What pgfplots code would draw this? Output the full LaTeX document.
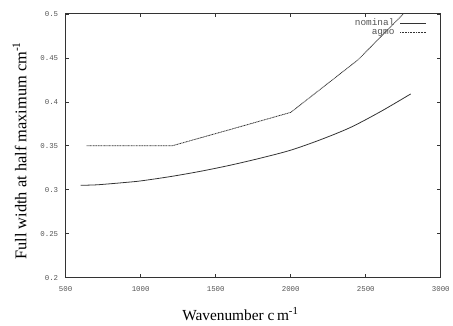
\documentclass[border=0pt]{standalone}
\usepackage{fontspec}
\setmainfont{Liberation Serif}
\newfontfamily\monofont{Liberation Mono}
\usepackage{pgfplots}
\pgfplotsset{compat=1.18}
\definecolor{ln}{HTML}{333333}
\definecolor{tk}{HTML}{555555}
\begin{document}
\begin{tikzpicture}
\begin{axis}[
  name=ax,
  scale only axis,
  width=377bp, height=265bp,
  xmin=500, xmax=3000, ymin=0.2, ymax=0.5,
  xtick={500,1000,1500,2000,2500,3000},
  ytick={0.2,0.25,0.3,0.35,0.4,0.45,0.5},
  /pgf/number format/1000 sep={},
  /pgf/number format/assume math mode=true,
  tick label style={font=\monofont\fontsize{7.5}{8}\selectfont, text=tk},
  xticklabel style={yshift=-5pt},
  yticklabel style={xshift=-4pt},
  tick align=inside, tick pos=both,
  major tick length=3.5pt,
  axis line style={ln, line width=0.9pt},
  every tick/.style={ln, line width=0.6pt},
  xlabel={Wavenumber c\,m\textsuperscript{-1}},
  ylabel={Full width at half maximum cm\textsuperscript{-1}},
  xlabel style={font=\fontsize{15.5}{17}\selectfont, yshift=-10pt, xshift=-13pt},
  ylabel style={font=\fontsize{16.5}{18}\selectfont, yshift=7pt, xshift=-5pt},
  legend style={draw=none, fill=none, at={(0.971,0.99)}, anchor=north east,
    font=\monofont\fontsize{9.5}{10}\selectfont, text=tk, row sep=1pt,
    column sep=5pt, nodes={inner sep=0.3pt}},
  legend cell align=right,
  legend plot pos=right,
  legend image post style={xscale=1.55},
]
\addplot[ln, line width=0.8pt, smooth] coordinates {
(600,0.305) (700,0.3055) (800,0.3068) (900,0.3083) (1000,0.310) (1200,0.315) (1400,0.321) (1600,0.328) (1800,0.336) (2000,0.345) (2200,0.357) (2400,0.371) (2600,0.389) (2800,0.409)};
\addlegendentry{nominal}
\addplot[ln, line width=0.8pt, dash pattern=on 1pt off 0.6pt] coordinates {
(640,0.35) (1210,0.35) (1607,0.369) (2000,0.388) (2450,0.448) (2750,0.5)};
\addlegendentry{agmo}
\end{axis}
\path ([xshift=-66bp,yshift=-48bp]ax.south west) rectangle ([xshift=10bp,yshift=14bp]ax.north east);
\end{tikzpicture}
\end{document}
